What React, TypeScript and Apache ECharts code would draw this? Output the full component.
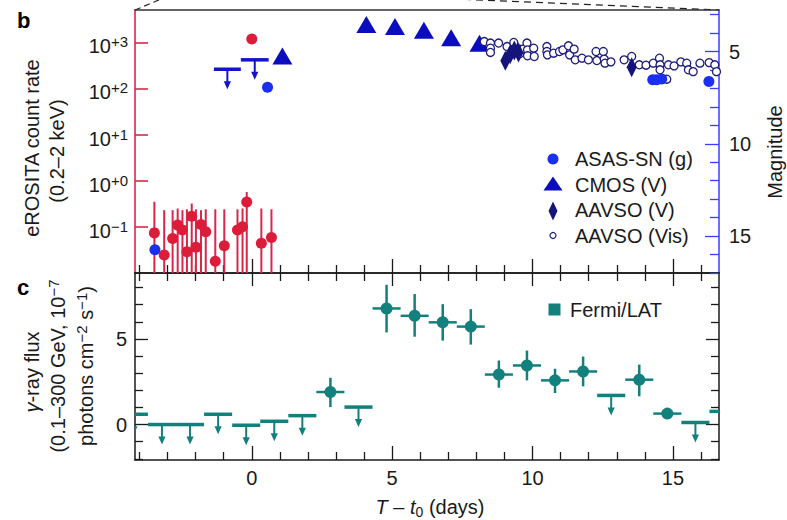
import React, { useEffect, useRef } from 'react';
import * as echarts from 'echarts';

const FONT = '"Liberation Sans", Arial, Helvetica, sans-serif';

// ---------- axes ----------
const X_MIN = -4.16;
const X_MAX = 16.64;
const xMajor = [0, 5, 10, 15];
const xMinor = [-4, -3, -2, -1, 1, 2, 3, 4, 6, 7, 8, 9, 11, 12, 13, 14, 16];

const RATE_MIN = 0.01;
const RATE_MAX = 5000;
const logTicks = [0.1, 1, 10, 100, 1000];
const logExp = ['\u22121', '+0', '+1', '+2', '+3'];

const MAG_MIN = 2.75;
const MAG_MAX = 17.0;
const magMajor = [5, 10, 15];
const magMinor = [3, 4, 6, 7, 8, 9, 11, 12, 13, 14, 16, 17];

const F_MIN = -2.07;
const F_MAX = 8.85;
const fMajor = [0, 5];
const fMinor = [-2, -1, 1, 2, 3, 4, 6, 7, 8];

// ---------- panel b: eROSITA (count rate) ----------
const eroDay = [-3.47, -3.12, -2.82, -2.64, -2.47, -2.31, -2.14, -1.99, -1.81, -1.64, -1.3, -0.98, -0.51, -0.33, -0.18, 0.34, 0.7];
const eroRate = [0.074, 0.0245, 0.056, 0.109, 0.085, 0.029, 0.17, 0.036, 0.112, 0.078, 0.018, 0.039, 0.085, 0.1, 0.346, 0.044, 0.059];
const eroHi = [0.35, 0.23, 0.23, 0.25, 0.23, 0.24, 0.32, 0.24, 0.23, 0.24, 0.24, 0.24, 0.24, 0.25, 0.57, 0.25, 0.24];
const eroLo = [0.01, 0.01, 0.01, 0.01, 0.01, 0.01, 0.01, 0.01, 0.01, 0.01, 0.01, 0.01, 0.01, 0.01, 0.01, 0.01, 0.01];
const eroPeakDay = [0.0];
const eroPeakRate = [1180];

// ---------- panel b: optical (magnitude) ----------
const asasDay = [-3.45, 0.56, 14.28, 14.42, 14.6, 16.28];
const asasMag = [15.74, 6.93, 6.53, 6.53, 6.49, 6.62];
const asasUlStart = [-1.35, -0.39];
const asasUlEnd = [-0.39, 0.6];
const asasUlMag = [5.96, 5.45];

const cmosDay = [1.09, 4.08, 5.1, 6.13, 7.1, 8.11];
const cmosMag = [5.24, 3.54, 3.65, 3.85, 4.26, 4.55];

const aavsoVDay = [9.03, 9.2, 9.35, 9.5, 13.53];
const aavsoVMag = [5.5, 5.15, 4.95, 5.05, 5.85];

const visDay = [8.28, 8.5, 8.5, 8.5, 8.79, 9.09, 9.33, 9.33, 9.54, 9.54, 9.66, 9.8, 9.82, 9.82, 10.04, 10.06, 10.51, 10.51, 10.53, 10.75, 10.96, 11.08, 11.28, 11.32, 11.48, 11.52, 11.76, 11.99, 12.26, 12.29, 12.52, 12.55, 12.58, 12.79, 13.26, 13.53, 13.8, 14.04, 14.3, 14.52, 14.54, 14.54, 14.78, 14.84, 15.04, 15.28, 15.49, 15.55, 15.72, 15.96, 16.29, 16.49, 16.55];
const visMag = [4.46, 4.54, 4.82, 5.05, 4.54, 4.73, 4.51, 4.91, 4.87, 5.12, 4.87, 4.54, 4.91, 5.23, 4.82, 5.27, 4.73, 5.0, 5.18, 5.09, 5.0, 4.91, 4.69, 5.18, 4.87, 5.45, 5.36, 5.45, 5.0, 5.49, 5.0, 5.41, 5.63, 5.56, 5.45, 5.27, 5.72, 5.74, 5.63, 5.36, 5.72, 5.99, 6.5, 5.72, 5.78, 5.56, 5.63, 5.99, 6.09, 5.63, 5.6, 5.72, 6.09];

// ---------- panel c: Fermi/LAT ----------
const fermiDay = [2.8, 4.8, 5.8, 6.8, 7.8, 8.8, 9.8, 10.8, 11.8, 13.8, 14.8];
const fermiBinStart = [2.3, 4.3, 5.3, 6.3, 7.3, 8.3, 9.3, 10.3, 11.3, 13.3, 14.3];
const fermiBinEnd = [3.3, 5.3, 6.3, 7.3, 8.3, 9.3, 10.3, 11.3, 12.3, 14.3, 15.3];
const fermiFlux = [1.9, 6.78, 6.35, 5.97, 5.72, 2.92, 3.45, 2.58, 3.1, 2.62, 0.64];
const fermiLo = [1.02, 5.38, 5.13, 4.9, 4.67, 2.15, 2.58, 1.84, 2.23, 1.65, 0.53];
const fermiHi = [2.73, 8.16, 7.62, 7.03, 6.74, 3.74, 4.32, 3.26, 3.97, 3.5, 0.75];

const fermiUlStart = [-4.7, -3.7, -2.7, -1.7, -0.7, 0.3, 1.3, 3.3, 12.3, 15.3, 16.3];
const fermiUlEnd = [-3.7, -2.7, -1.7, -0.7, 0.3, 1.3, 2.3, 4.3, 13.3, 16.3, 17.3];
const fermiUlFlux = [0.6, 0.0, 0.0, 0.6, -0.04, 0.19, 0.52, 1.02, 1.7, 0.12, 0.77];

// ---------- legends ----------
const legendB = ['ASAS-SN (g)', 'CMOS (V)', 'AAVSO (V)', 'AAVSO (Vis)'];
const legendC = ['Fermi/LAT'];

// ---------- colours ----------
const BLACK = '#1a1a1a';
const CRIMSON = '#d8284a';
const RED = '#dc1d3a';
const ASAS = '#1a2ff0';
const CMOS = '#0c0cbf';
const AAVSO_V = '#14147a';
const VIS = '#1c1c7c';
const UL_BLUE = '#1414c8';
const MAG_AXIS = '#3d3dff';
const TEAL = '#12807d';

const makeUl = (color: string) => (params: any, api: any) => {
  const a = api.coord([api.value(0), api.value(2)]);
  const b = api.coord([api.value(1), api.value(2)]);
  const xc = (a[0] + b[0]) / 2;
  const y = a[1];
  return {
    type: 'group',
    children: [
      { type: 'line', shape: { x1: a[0], y1: y, x2: b[0], y2: y }, style: { stroke: color, lineWidth: 3.5 } },
      { type: 'line', shape: { x1: xc, y1: y, x2: xc, y2: y + 13 }, style: { stroke: color, lineWidth: 2 } },
      { type: 'polygon', shape: { points: [[xc - 3.6, y + 12], [xc + 3.6, y + 12], [xc, y + 20]] }, style: { fill: color } },
    ],
  };
};

const redErr = (params: any, api: any) => {
  const x = api.value(0);
  const p0 = api.coord([x, api.value(1)]);
  const p1 = api.coord([x, api.value(2)]);
  return { type: 'line', shape: { x1: p0[0], y1: p0[1], x2: p1[0], y2: p1[1] }, style: { stroke: CRIMSON, lineWidth: 2 } };
};

const tealErr = (params: any, api: any) => {
  const x = api.value(0);
  const y = api.value(3);
  const h0 = api.coord([api.value(1), y]);
  const h1 = api.coord([api.value(2), y]);
  const v0 = api.coord([x, api.value(4)]);
  const v1 = api.coord([x, api.value(5)]);
  return {
    type: 'group',
    children: [
      { type: 'line', shape: { x1: h0[0], y1: h0[1], x2: h1[0], y2: h1[1] }, style: { stroke: TEAL, lineWidth: 2.5 } },
      { type: 'line', shape: { x1: v0[0], y1: v0[1], x2: v1[0], y2: v1[1] }, style: { stroke: TEAL, lineWidth: 2.5 } },
    ],
  };
};

const baseX = { type: 'value', min: X_MIN, max: X_MAX, splitLine: { show: false }, axisLabel: { show: false } };
const lineOn = (color: string) => ({ show: true, onZero: false, lineStyle: { color, width: 1.5 } });
const lineOff = { show: false, onZero: false };
const ticks = (vals: number[], len: number, color: string) => ({
  show: true, inside: true, length: len, customValues: vals, lineStyle: { color, width: 1.3 },
});

const lbl = { fontSize: 20, fontFamily: FONT, color: BLACK };

const rot = (x: number, y: number, text: string, rich?: any) => ({
  type: 'text', x, y, rotation: Math.PI / 2,
  style: { text, fontSize: 20, fontFamily: FONT, fill: BLACK, textAlign: 'center', textVerticalAlign: 'middle', rich },
});

const supRich = {
  n: { fontSize: 20, fontFamily: FONT, lineHeight: 24, fill: BLACK, color: BLACK },
  s: { fontSize: 15, fontFamily: FONT, lineHeight: 15, verticalAlign: 'top', fill: BLACK, color: BLACK },
  g: { fontSize: 20, fontFamily: FONT, lineHeight: 24, fontStyle: 'italic', fill: BLACK, color: BLACK },
};

export default function App() {
  const ref = useRef<HTMLDivElement>(null);
  useEffect(() => {
    const chart = echarts.init(ref.current!, null, { renderer: 'svg' });
    const rowsB = [159, 184.5, 210, 235.5];
    const option: any = {
      animation: false,
      backgroundColor: '#ffffff',
      textStyle: { fontFamily: FONT },
      grid: [
        { left: 135, top: 10, width: 584, height: 263, containLabel: false, outerBoundsMode: 'none' },
        { left: 135, top: 273, width: 584, height: 187, containLabel: false, outerBoundsMode: 'none' },
      ],
      xAxis: [
        { ...baseX, gridIndex: 0, position: 'bottom', axisLine: lineOn(BLACK), axisTick: ticks(xMajor, 14, BLACK) },
        { ...baseX, gridIndex: 0, position: 'bottom', axisLine: lineOff, axisTick: ticks(xMinor, 8, BLACK) },
        { ...baseX, gridIndex: 0, position: 'top', axisLine: lineOn('#333'), axisTick: { show: false } },
        {
          ...baseX, gridIndex: 1, position: 'bottom', axisLine: lineOn(BLACK), axisTick: ticks(xMajor, 14, BLACK),
          axisLabel: { show: true, customValues: xMajor, margin: 8, ...lbl },
        },
        { ...baseX, gridIndex: 1, position: 'bottom', axisLine: lineOff, axisTick: ticks(xMinor, 8, BLACK) },
        { ...baseX, gridIndex: 1, position: 'top', axisLine: lineOn(BLACK), axisTick: ticks(xMajor, 13, BLACK) },
        { ...baseX, gridIndex: 1, position: 'top', axisLine: lineOff, axisTick: ticks(xMinor, 8, BLACK) },
      ],
      yAxis: [
        {
          type: 'log', logBase: 10, gridIndex: 0, position: 'left', min: RATE_MIN, max: RATE_MAX,
          axisLine: { show: true, onZero: false, lineStyle: { color: CRIMSON, width: 1.6 } },
          axisTick: { show: true, inside: true, length: 13, customValues: logTicks, lineStyle: { color: CRIMSON, width: 1.6 } },
          minorTick: { show: false }, splitLine: { show: false },
          axisLabel: {
            show: true, customValues: logTicks, margin: 7, padding: [8, 0, 0, 0],
            formatter: (v: number) => {
              const i = logTicks.findIndex((t) => Math.abs(Math.log10(t) - Math.log10(v)) < 1e-6);
              return i < 0 ? '' : `{n|10}{s|${logExp[i]}}`;
            },
            rich: supRich,
          },
        },
        {
          type: 'value', gridIndex: 0, position: 'right', inverse: true, min: MAG_MIN, max: MAG_MAX,
          axisLine: lineOn(MAG_AXIS), axisTick: ticks(magMajor, 14, MAG_AXIS), splitLine: { show: false },
          axisLabel: { show: true, customValues: magMajor, margin: 10, ...lbl },
        },
        {
          type: 'value', gridIndex: 0, position: 'right', inverse: true, min: MAG_MIN, max: MAG_MAX,
          axisLine: lineOff, axisTick: ticks(magMinor, 9, MAG_AXIS), splitLine: { show: false }, axisLabel: { show: false },
        },
        {
          type: 'value', gridIndex: 1, position: 'left', min: F_MIN, max: F_MAX,
          axisLine: lineOn(BLACK), axisTick: ticks(fMajor, 13, BLACK), splitLine: { show: false },
          axisLabel: { show: true, customValues: fMajor, margin: 8, ...lbl },
        },
        {
          type: 'value', gridIndex: 1, position: 'left', min: F_MIN, max: F_MAX,
          axisLine: lineOff, axisTick: ticks(fMinor, 8, BLACK), splitLine: { show: false }, axisLabel: { show: false },
        },
        {
          type: 'value', gridIndex: 1, position: 'right', min: F_MIN, max: F_MAX,
          axisLine: lineOn(BLACK), axisTick: ticks(fMajor, 13, BLACK), splitLine: { show: false }, axisLabel: { show: false },
        },
        {
          type: 'value', gridIndex: 1, position: 'right', min: F_MIN, max: F_MAX,
          axisLine: lineOff, axisTick: ticks(fMinor, 8, BLACK), splitLine: { show: false }, axisLabel: { show: false },
        },
      ],
      series: [
        {
          type: 'custom', name: 'eROSITA err', xAxisIndex: 0, yAxisIndex: 0, clip: true, silent: true,
          renderItem: redErr, encode: { x: 0, y: [1, 2] },
          data: eroDay.map((d, i) => [d, eroLo[i], eroHi[i]]),
        },
        {
          type: 'scatter', name: 'eROSITA', xAxisIndex: 0, yAxisIndex: 0, silent: true,
          symbol: 'circle', symbolSize: 11, itemStyle: { color: RED, opacity: 1 },
          data: [...eroDay.map((d, i) => [d, eroRate[i]]), ...eroPeakDay.map((d, i) => [d, eroPeakRate[i]])],
        },
        {
          type: 'custom', name: 'ASAS-SN limits', xAxisIndex: 0, yAxisIndex: 1, clip: true, silent: true,
          renderItem: makeUl(UL_BLUE), encode: { x: [0, 1], y: 2 },
          data: asasUlStart.map((s, i) => [s, asasUlEnd[i], asasUlMag[i]]),
        },
        {
          type: 'scatter', name: 'CMOS (V)', xAxisIndex: 0, yAxisIndex: 1, silent: true,
          symbol: 'triangle', symbolSize: [20, 17], itemStyle: { color: CMOS, opacity: 1 },
          data: cmosDay.map((d, i) => [d, cmosMag[i]]),
        },
        {
          type: 'scatter', name: 'AAVSO (Vis)', xAxisIndex: 0, yAxisIndex: 1, silent: true,
          symbol: 'circle', symbolSize: 8, itemStyle: { color: '#ffffff', borderColor: VIS, borderWidth: 1.3, opacity: 1 },
          data: visDay.map((d, i) => [d, visMag[i]]),
        },
        {
          type: 'scatter', name: 'AAVSO (V)', xAxisIndex: 0, yAxisIndex: 1, silent: true,
          symbol: 'diamond', symbolSize: [10, 20], itemStyle: { color: AAVSO_V, opacity: 1 },
          data: aavsoVDay.map((d, i) => [d, aavsoVMag[i]]),
        },
        {
          type: 'scatter', name: 'ASAS-SN (g)', xAxisIndex: 0, yAxisIndex: 1, silent: true,
          symbol: 'circle', symbolSize: 11, itemStyle: { color: ASAS, opacity: 1 },
          data: asasDay.map((d, i) => [d, asasMag[i]]),
        },
        {
          type: 'custom', name: 'Fermi err', xAxisIndex: 3, yAxisIndex: 3, clip: true, silent: true,
          renderItem: tealErr, encode: { x: [0, 1, 2], y: [3, 4, 5] },
          data: fermiDay.map((d, i) => [d, fermiBinStart[i], fermiBinEnd[i], fermiFlux[i], fermiLo[i], fermiHi[i]]),
        },
        {
          type: 'scatter', name: 'Fermi/LAT', xAxisIndex: 3, yAxisIndex: 3, silent: true,
          symbol: 'circle', symbolSize: 12, itemStyle: { color: TEAL, opacity: 1 },
          data: fermiDay.map((d, i) => [d, fermiFlux[i]]),
        },
        {
          type: 'custom', name: 'Fermi limits', xAxisIndex: 3, yAxisIndex: 3, clip: true, silent: true,
          renderItem: makeUl(TEAL), encode: { x: [0, 1], y: 2 },
          data: fermiUlStart.map((s, i) => [s, fermiUlEnd[i], fermiUlFlux[i]]),
        },
      ],
      graphic: [
        // zoom connector dashes from panel a
        { type: 'line', shape: { x1: 135, y1: 10, x2: 166, y2: -3 }, style: { stroke: '#222', lineWidth: 1.2, lineDash: [6, 4] } },
        { type: 'line', shape: { x1: 440, y1: -1.7, x2: 719, y2: 10 }, style: { stroke: '#222', lineWidth: 1.2, lineDash: [7, 5] } },
        // panel letters
        { type: 'text', x: 17, y: 20, style: { text: 'b', fontSize: 22, fontWeight: 'bold', fontFamily: FONT, fill: '#000', textVerticalAlign: 'middle' } },
        { type: 'text', x: 17, y: 287, style: { text: 'c', fontSize: 22, fontWeight: 'bold', fontFamily: FONT, fill: '#000', textVerticalAlign: 'middle' } },
        // axis titles
        rot(31.5, 148, 'eROSITA count rate'),
        rot(57, 151, '(0.2\u20132 keV)'),
        rot(775, 152, 'Magnitude'),
        rot(32, 372, '{g|\u03b3}{n|-ray flux}', supRich),
        rot(58, 366, '{n|(0.1\u2013300 GeV, 10}{s|\u22127}', supRich),
        rot(86, 366, '{n|photons cm}{s|\u22122}{n| s}{s|\u22121}{n|)}', supRich),
        {
          type: 'text', x: 430, y: 507,
          style: {
            text: '{g|T}{n| \u2013 }{g|t}{b|0}{n| (days)}', textAlign: 'center', textVerticalAlign: 'middle',
            rich: {
              n: { fontSize: 20, fontFamily: FONT, lineHeight: 24, fill: BLACK },
              g: { fontSize: 20, fontFamily: FONT, lineHeight: 24, fontStyle: 'italic', fill: BLACK },
              b: { fontSize: 14, fontFamily: FONT, lineHeight: 10, verticalAlign: 'bottom', fill: BLACK },
            },
          },
        },
        // legend panel b
        { type: 'circle', shape: { cx: 553, cy: rowsB[0], r: 5.5 }, style: { fill: ASAS } },
        { type: 'polygon', shape: { points: [[553, 176.5], [562.5, 190.5], [543.5, 190.5]] }, style: { fill: CMOS } },
        { type: 'polygon', shape: { points: [[553, 201.5], [557.5, 211], [553, 220.5], [548.5, 211]] }, style: { fill: AAVSO_V } },
        { type: 'circle', shape: { cx: 553, cy: rowsB[3], r: 3 }, style: { fill: '#fff', stroke: VIS, lineWidth: 1.2 } },
        ...legendB.map((t, i) => ({
          type: 'text', x: 575, y: rowsB[i],
          style: { text: t, fontSize: 20, fontFamily: FONT, fill: BLACK, textVerticalAlign: 'middle' },
        })),
        // legend panel c
        { type: 'rect', shape: { x: 548.5, y: 303.5, width: 12, height: 12 }, style: { fill: TEAL } },
        ...legendC.map((t) => ({
          type: 'text', x: 570, y: 309.5,
          style: { text: t, fontSize: 20, fontFamily: FONT, fill: BLACK, textVerticalAlign: 'middle' },
        })),
      ],
    };
    chart.setOption(option);
    return () => chart.dispose();
  }, []);
  return <div ref={ref} style={{ position: 'absolute', left: 0, top: 0, width: 787, height: 520 }} />;
}
